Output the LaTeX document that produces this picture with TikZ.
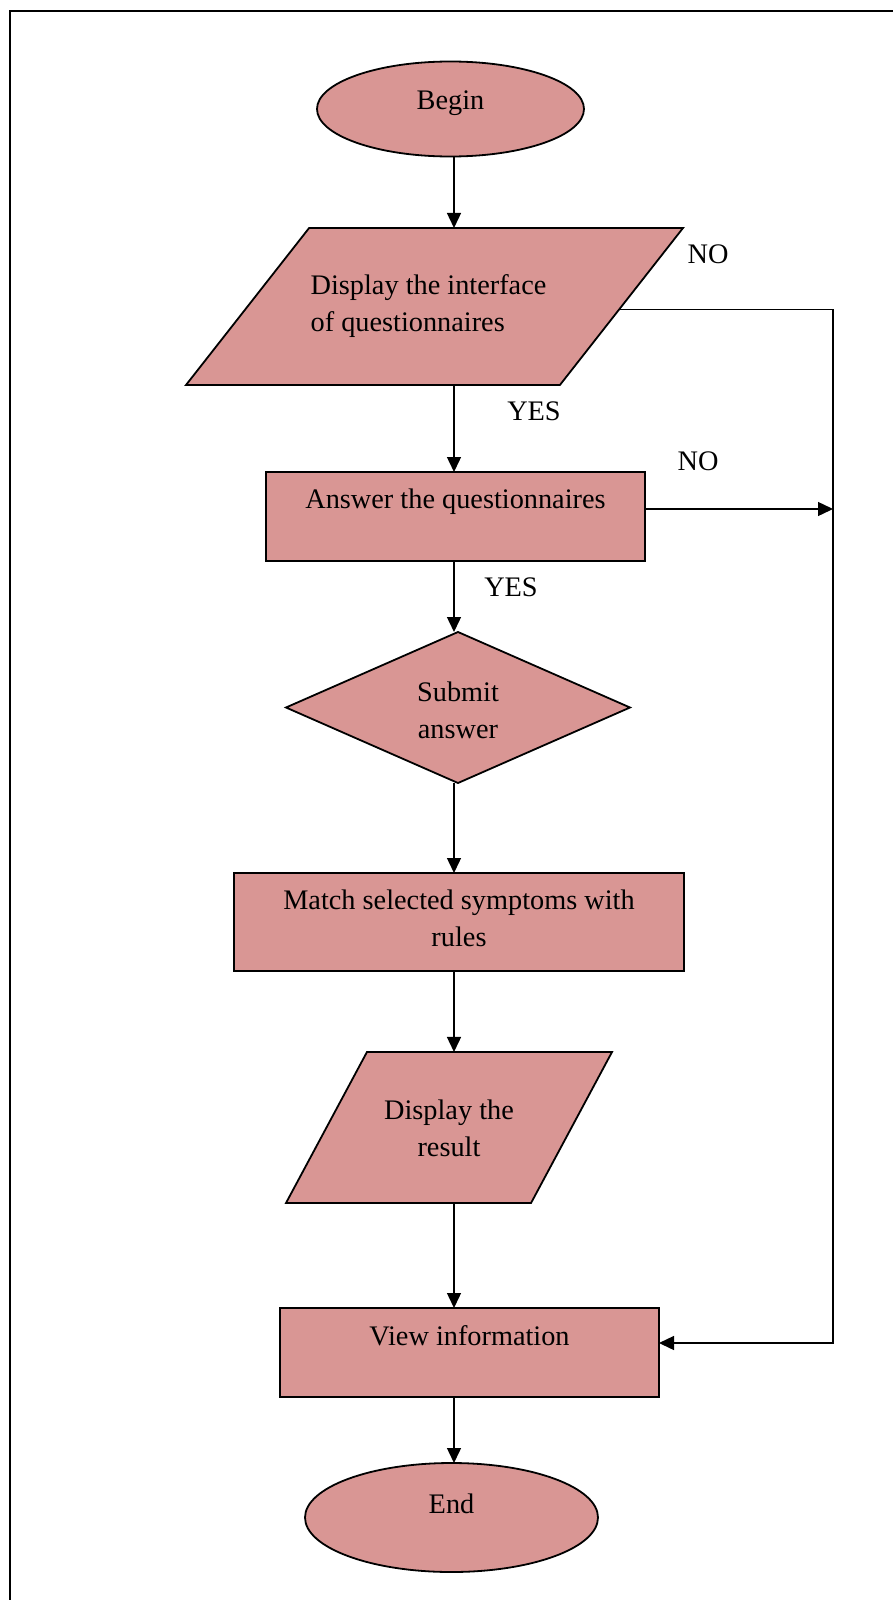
\documentclass[tikz,border=0pt]{standalone}
\usepackage{fontspec}
\setmainfont{Liberation Serif}
\usetikzlibrary{shapes.geometric,arrows.meta,calc}
\definecolor{boxpink}{HTML}{D99694}
\newcommand{\tb}[3][c]{\raisebox{#2}[0pt][0pt]{\begin{tabular}[b]{@{}#1@{}}#3\end{tabular}}}
\begin{document}
\begin{tikzpicture}[x=1pt,y=-1pt,
  shp/.style={draw=black, fill=boxpink, line width=1.8pt, inner sep=0pt, outer sep=0pt, font=\fontsize{28.3pt}{37pt}\selectfont},
  term/.style={shp, ellipse},
  proc/.style={shp, rectangle},
  io/.style={shp, trapezium, trapezium stretches body, inner xsep=0pt},
  dec/.style={shp, diamond},
  conn/.style={line width=1.4pt, draw=black},
  arr/.style={conn, -{Triangle[length=15pt,width=14pt]}},
  lab/.style={font=\fontsize{28.3pt}{37pt}\selectfont, inner sep=0pt, anchor=base}
]
\useasboundingbox (0,0) rectangle (893,1600);
\draw[line width=1.6pt] (10,1600) -- (10,11) -- (893,11);

\node[term, minimum width=267pt, minimum height=95pt] (begin) at (450.5,109) {\tb{-1pt}{Begin}};
\node[io, trapezium left angle=51.9, trapezium right angle=128.1, inner ysep=78.5pt, minimum width=497pt] (disp) at (434.5,306.5) {\tb[l]{-25.2pt}{Display the interface\\of questionnaires}\hspace*{12pt}};
\node[proc, minimum width=379pt, minimum height=89pt] (ans) at (455.5,516.5) {\tb{8.2pt}{Answer the questionnaires}};
\node[dec, minimum width=344pt, minimum height=151pt] (sub) at (458,707.5) {\tb{-30.8pt}{Submit\\answer}};
\node[proc, minimum width=450pt, minimum height=98pt] (match) at (459,922) {\tb{-24.7pt}{Match selected symptoms with\\rules}};
\node[io, trapezium left angle=61.8, trapezium right angle=118.2, inner ysep=75.5pt, minimum width=326pt] (res) at (449,1127.5) {\tb{-29.2pt}{Display the\\result}};
\node[proc, minimum width=379pt, minimum height=89pt] (view) at (469.5,1352.5) {\tb{6.8pt}{View information}};
\node[term, minimum width=293pt, minimum height=109pt] (end) at (451.5,1517.5) {\tb{4.2pt}{End}};

\coordinate (axis) at (454,0);
\coordinate (rail) at (833,0);
\draw[arr] (begin.south -| axis) -- (disp.north -| axis);
\draw[arr] (disp.south -| axis) -- (ans.north -| axis);
\draw[arr] (ans.south -| axis) -- (sub.north -| axis);
\draw[arr] (sub.south -| axis) -- (match.north -| axis);
\draw[arr] (match.south -| axis) -- (res.north -| axis);
\draw[arr] (res.south -| axis) -- (view.north -| axis);
\draw[arr] (view.south -| axis) -- (end.north -| axis);

\coordinate (vin) at ([yshift=9.5pt]view.east);
\draw[arr] (disp.-1.1) -| (rail |- vin) -- (vin);
\coordinate (aout) at ([yshift=7.5pt]ans.east);
\draw[arr] (aout) -- (aout -| rail);

\node[lab] (no1) at (708,263) {NO};
\node[lab] (yes1) at (534,420.7) {YES};
\node[lab] (no2) at (698,470.7) {NO};
\node[lab] (yes2) at (511,596) {YES};
\end{tikzpicture}
\end{document}
